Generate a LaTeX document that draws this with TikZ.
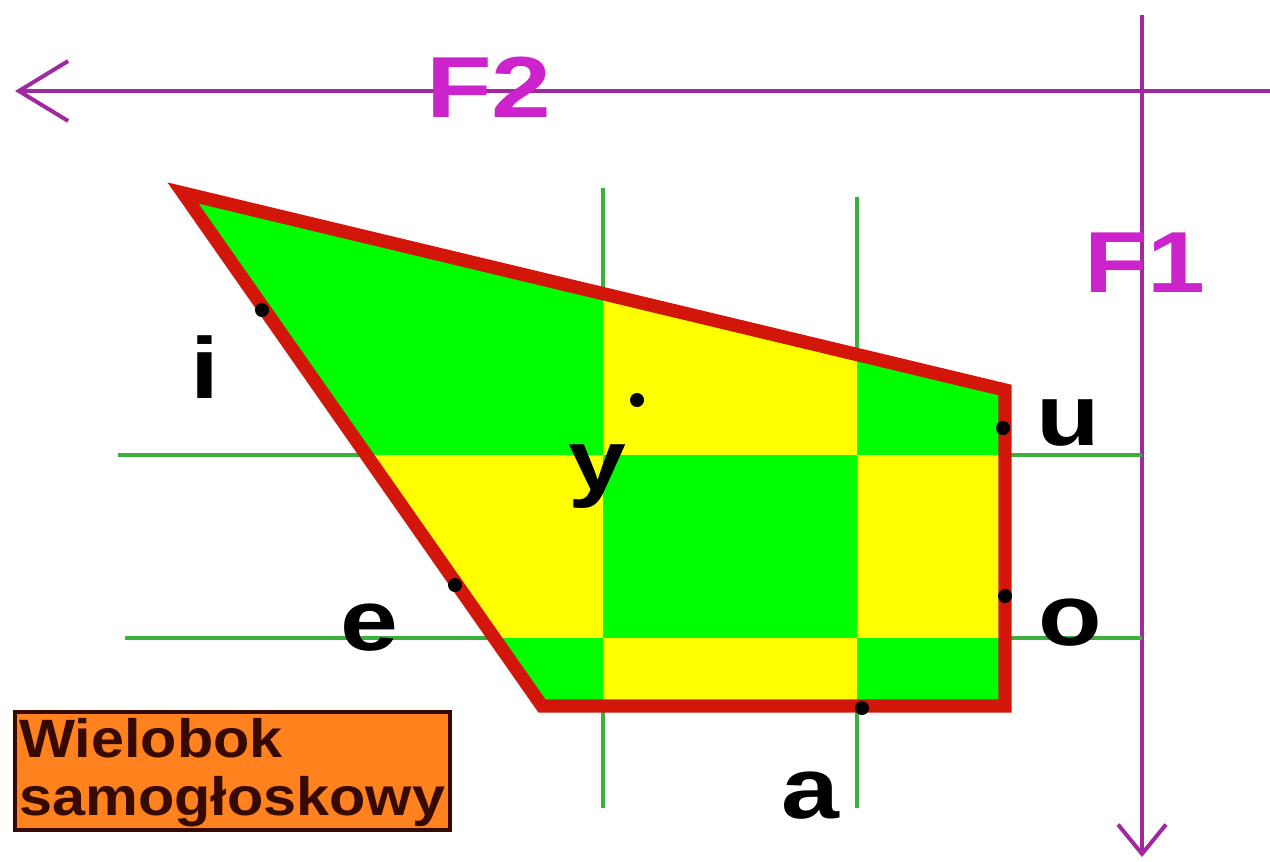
\documentclass[tikz,border=0pt]{standalone}
\usepackage{fontspec}
\usepackage{graphicx}
\setmainfont{Liberation Sans}
\usetikzlibrary{arrows.meta}
\definecolor{polyred}{RGB}{210,22,10}
\definecolor{gridgreen}{RGB}{60,175,60}
\definecolor{fillgreen}{RGB}{0,255,0}
\definecolor{fillyellow}{RGB}{255,255,0}
\definecolor{fmag}{RGB}{160,40,160}
\definecolor{ftext}{RGB}{205,35,205}
\definecolor{boxorange}{RGB}{255,130,30}
\definecolor{boxdark}{RGB}{55,10,0}
\newcommand{\widetxt}[2]{\scalebox{#1}[1]{#2}}
\begin{document}
\begin{tikzpicture}[x=0.75pt,y=-0.75pt,
  lbl/.style={font=\bfseries\fontsize{65pt}{70pt}\selectfont, text=black, inner sep=0pt, anchor=base},
  flbl/.style={font=\bfseries\fontsize{65pt}{70pt}\selectfont, text=ftext, inner sep=0pt, anchor=base},
  boxtxt/.style={font=\bfseries\fontsize{40.5pt}{45pt}\selectfont, text=boxdark, inner sep=0pt, anchor=base west},
  gridline/.style={draw=gridgreen, line width=3pt},
  fline/.style={draw=fmag, line width=3pt},
  vdot/.style={circle, fill=black, inner sep=0pt, minimum size=10.5pt},
  legendbox/.style={draw=boxdark, fill=boxorange, line width=3pt}]
\useasboundingbox (0,0) rectangle (1270,861);
% formant axes
\coordinate (f2start) at (1270,91);
\coordinate (f2end) at (15,91);
\coordinate (f1start) at (1142,15);
\coordinate (f1end) at (1142,857);
\draw[fline, -{Straight Barb[length=37pt, width=45pt]}] (f2start) -- (f2end);
\draw[fline, -{Straight Barb[length=22pt, width=36pt]}] (f1start) -- (f1end);
\node[flbl] (F2) at (489,117) {\widetxt{1.24}{F2}};
\node[flbl] (F1) at (1145,292) {\widetxt{1.2}{F1}};
% grid lines
\coordinate (v1t) at (603,188); \coordinate (v1b) at (603,808);
\coordinate (v2t) at (857,197); \coordinate (v2b) at (857,808);
\coordinate (h1l) at (118,455); \coordinate (h1r) at (1142,455);
\coordinate (h2l) at (125,638); \coordinate (h2r) at (1142,638);
\draw[gridline] (v1t) -- (v1b);
\draw[gridline] (v2t) -- (v2b);
\draw[gridline] (h1l) -- (h1r);
\draw[gridline] (h2l) -- (h2r);
% polygon
\coordinate (p1) at (183,193);
\coordinate (p2) at (1005,390);
\coordinate (p3) at (1005,706);
\coordinate (p4) at (542,706);
\begin{scope}
\clip (p1) -- (p2) -- (p3) -- (p4) -- cycle;
\fill[fillgreen] (0,0) rectangle (603,455);
\fill[fillyellow] (603,0) rectangle (857,455);
\fill[fillgreen] (857,0) rectangle (1100,455);
\fill[fillyellow] (0,455) rectangle (603,638);
\fill[fillgreen] (603,455) rectangle (857,638);
\fill[fillyellow] (857,455) rectangle (1100,638);
\fill[fillgreen] (0,638) rectangle (603,800);
\fill[fillyellow] (603,638) rectangle (857,800);
\fill[fillgreen] (857,638) rectangle (1100,800);
\end{scope}
\draw[draw=polyred, line width=10pt, line join=miter] (p1) -- (p2) -- (p3) -- (p4) -- cycle;
% vowel points
\node[vdot] (di) at (262,310) {};
\node[vdot] (dy) at (637,400) {};
\node[vdot] (du) at (1003,428) {};
\node[vdot] (de) at (455,585) {};
\node[vdot] (do) at (1005,596) {};
\node[vdot] (da) at (862,708) {};
% vowel labels
\node[lbl] (li) at (205,398) {\widetxt{1.2}{i}};
\node[lbl] (ly) at (597,490) {\widetxt{1.2}{y}};
\node[lbl] (lu) at (1068,445) {\widetxt{1.2}{u}};
\node[lbl] (le) at (369,650) {\widetxt{1.2}{e}};
\node[lbl] (lo) at (1070,645) {\widetxt{1.2}{o}};
\node[lbl] (la) at (810,818) {\widetxt{1.2}{a}};
% legend box
\draw[legendbox] (15,712) rectangle (450,830);
\node[boxtxt] (bl1) at (19,757) {\widetxt{1.1}{Wielobok}};
\node[boxtxt] (bl2) at (19,815) {\widetxt{1.1}{samogłoskowy}};
\end{tikzpicture}
\end{document}
